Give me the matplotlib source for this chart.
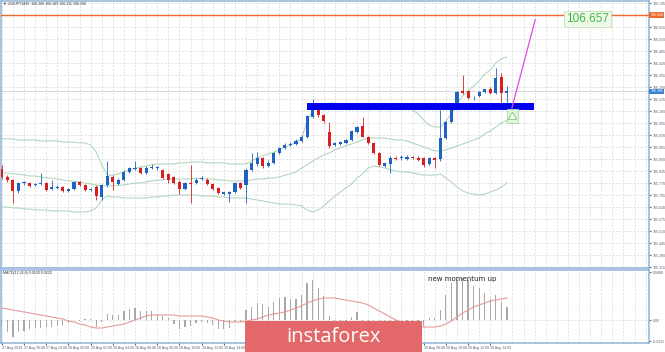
import matplotlib
matplotlib.use("Agg")
import matplotlib.pyplot as plt
from matplotlib.patches import Rectangle

# ---------------- data ----------------
open_ = [105.846,105.803,105.786,105.727,105.768,105.770,105.759,105.765,105.770,105.738,
         105.743,105.748,105.727,105.738,105.776,105.759,105.732,105.748,105.694,105.759,
         105.803,105.765,105.786,105.830,105.846,105.851,105.824,105.851,105.849,105.841,
         105.819,105.803,105.776,105.738,105.770,105.770,105.792,105.786,105.765,105.743,
         105.713,105.713,105.721,105.770,105.759,105.841,105.873,105.906,105.862,105.879,
         105.933,105.960,105.976,105.981,105.998,106.019,106.128,106.176,106.138,106.046,
         105.976,105.981,105.987,106.003,106.046,106.079,106.019,105.987,105.933,105.862,
         105.873,105.906,105.903,105.900,105.911,105.906,105.906,105.873,105.906,105.900,
         106.014,106.100,106.193,106.268,106.268,106.228,106.241,106.263,106.279,106.258,
         106.344,106.260]
high = [105.868,105.813,105.792,105.776,105.781,105.776,105.770,105.824,105.776,105.786,
        105.759,105.754,105.743,105.781,105.781,105.765,105.743,105.759,105.765,105.889,
        105.813,105.797,105.841,105.857,105.889,105.857,105.862,105.873,105.862,105.846,
        105.824,105.808,105.786,105.776,105.868,105.797,105.808,105.797,105.770,105.748,
        105.721,105.727,105.776,105.776,105.851,105.933,105.938,105.911,105.895,105.938,
        105.965,105.987,105.992,106.009,106.030,106.138,106.225,106.187,106.144,106.100,
        105.992,105.998,106.009,106.057,106.079,106.128,106.025,105.992,105.938,105.884,
        105.917,105.917,105.922,105.922,105.917,105.917,105.911,105.911,105.911,106.166,
        106.106,106.198,106.268,106.355,106.274,106.241,106.268,106.279,106.290,106.393,
        106.366,106.296]
low = [105.792,105.776,105.662,105.716,105.759,105.748,105.754,105.759,105.727,105.732,
       105.738,105.721,105.721,105.732,105.754,105.727,105.727,105.678,105.678,105.748,
       105.732,105.759,105.781,105.824,105.841,105.819,105.819,105.846,105.841,105.792,
       105.770,105.765,105.710,105.732,105.662,105.765,105.786,105.759,105.732,105.710,
       105.705,105.667,105.716,105.738,105.662,105.835,105.862,105.851,105.857,105.873,
       105.927,105.955,105.971,105.976,105.992,106.014,106.122,106.128,106.095,105.960,
       105.971,105.976,105.981,105.998,106.041,106.019,105.981,105.927,105.862,105.857,
       105.824,105.895,105.895,105.895,105.900,105.889,105.857,105.868,105.851,105.889,
       106.009,106.095,106.187,106.252,106.225,106.220,106.236,106.258,106.252,106.252,
       106.203,106.193]
close = [105.803,105.786,105.727,105.770,105.773,105.754,105.765,105.770,105.732,105.746,
         105.751,105.727,105.738,105.776,105.759,105.732,105.738,105.700,105.759,105.808,
         105.776,105.786,105.830,105.851,105.851,105.824,105.851,105.857,105.854,105.797,
         105.786,105.770,105.738,105.770,105.765,105.786,105.797,105.765,105.738,105.716,
         105.719,105.719,105.770,105.743,105.841,105.879,105.906,105.862,105.879,105.933,
         105.960,105.976,105.981,105.998,106.019,106.133,106.176,106.138,106.106,105.971,
         105.984,105.992,106.003,106.052,106.073,106.019,105.987,105.933,105.868,105.879,
         105.906,105.900,105.909,105.911,105.906,105.895,105.868,105.906,105.895,106.014,
         106.100,106.193,106.263,106.258,106.231,106.233,106.263,106.279,106.258,106.339,
         106.258,106.266]

bb_upper = [106.009,106.009,106.009,106.003,106.003,106.003,106.003,105.998,105.998,105.998,
            105.998,105.992,105.992,105.992,105.987,105.987,105.976,105.938,105.868,105.813,
            105.813,105.819,105.830,105.841,105.851,105.857,105.862,105.868,105.873,105.873,
            105.873,105.873,105.879,105.879,105.884,105.884,105.884,105.879,105.879,105.879,
            105.879,105.873,105.873,105.873,105.873,105.889,105.906,105.917,105.927,105.938,
            105.949,105.965,105.976,105.992,106.009,106.106,106.166,106.187,106.198,106.203,
            106.203,106.198,106.193,106.193,106.187,106.182,106.176,106.176,106.176,106.182,
            106.187,106.187,106.182,106.176,106.166,106.144,106.111,106.084,106.073,106.073,
            106.106,106.144,106.198,106.241,106.268,106.296,106.323,106.360,106.382,106.420,
            106.442,106.453]
bb_mid = [105.824,105.824,105.819,105.819,105.813,105.808,105.808,105.803,105.797,105.797,
          105.792,105.786,105.781,105.781,105.776,105.770,105.765,105.759,105.754,105.754,
          105.754,105.759,105.759,105.765,105.770,105.770,105.776,105.781,105.786,105.786,
          105.792,105.792,105.792,105.792,105.792,105.797,105.792,105.792,105.792,105.786,
          105.786,105.781,105.781,105.781,105.781,105.786,105.792,105.792,105.797,105.797,
          105.803,105.813,105.819,105.830,105.851,105.868,105.889,105.906,105.922,105.933,
          105.949,105.960,105.971,105.981,105.992,106.003,106.014,106.014,106.014,106.014,
          106.009,106.003,106.003,105.998,105.987,105.976,105.965,105.955,105.944,105.944,
          105.949,105.960,105.971,105.981,105.992,106.003,106.014,106.036,106.052,106.073,
          106.095,106.111]
bb_lower = [105.640,105.640,105.635,105.635,105.629,105.629,105.624,105.624,105.624,105.619,
            105.619,105.619,105.619,105.613,105.613,105.613,105.619,105.635,105.678,105.700,
            105.694,105.694,105.689,105.689,105.689,105.689,105.689,105.694,105.694,105.700,
            105.700,105.705,105.705,105.705,105.705,105.705,105.700,105.700,105.700,105.694,
            105.694,105.689,105.689,105.689,105.689,105.683,105.678,105.673,105.667,105.662,
            105.656,105.656,105.656,105.651,105.646,105.624,105.613,105.624,105.646,105.673,
            105.700,105.721,105.743,105.765,105.797,105.819,105.851,105.862,105.857,105.851,
            105.841,105.835,105.830,105.830,105.824,105.819,105.813,105.813,105.813,105.819,
            105.797,105.776,105.748,105.727,105.716,105.710,105.705,105.710,105.721,105.732,
            105.748,105.770]

macd_hist = [-0.007,-0.012,-0.017,-0.012,-0.011,-0.009,-0.008,-0.008,-0.007,-0.007,
             -0.006,-0.005,-0.003,0.0005,-0.001,0.001,0.001,-0.007,-0.002,0.006,
             0.005,0.005,0.009,0.011,0.012,0.009,0.009,0.009,0.006,0.004,
             0.002,-0.004,-0.009,-0.007,-0.006,-0.003,-0.002,-0.003,-0.005,-0.009,
             -0.009,-0.008,-0.001,-0.002,0.010,0.013,0.017,0.016,0.013,0.018,
             0.022,0.023,0.021,0.021,0.025,0.037,0.040,0.032,0.024,0.004,
             -0.002,-0.004,-0.003,0.003,0.008,-0.002,-0.006,-0.012,-0.018,-0.020,
             -0.018,-0.016,-0.014,-0.012,-0.010,-0.008,-0.006,0.002,0.002,0.010,
             0.025,0.037,0.040,0.042,0.040,0.034,0.032,0.027,0.021,0.025,
             0.018,0.013]
macd_signal = [0.012,0.011,0.010,0.009,0.008,0.007,0.006,0.005,0.004,0.003,
               0.002,0.001,-0.001,-0.002,-0.004,-0.005,-0.007,-0.008,-0.008,-0.007,
               -0.006,-0.005,-0.004,-0.002,0.000,0.002,0.004,0.005,0.005,0.005,
               0.005,0.005,0.004,0.004,0.004,0.004,0.004,0.003,0.002,0.000,
               -0.001,-0.002,-0.002,-0.002,-0.001,0.000,0.001,0.003,0.005,0.006,
               0.007,0.008,0.010,0.012,0.014,0.017,0.019,0.021,0.022,0.022,
               0.022,0.021,0.020,0.019,0.018,0.017,0.015,0.012,0.009,0.006,
               0.003,0.000,-0.002,-0.004,-0.005,-0.006,-0.007,-0.007,-0.007,-0.006,
               -0.004,-0.001,0.003,0.007,0.010,0.013,0.015,0.017,0.019,0.020,
               0.021,0.022]

price_labels = ["106.745","106.680","106.615","106.550","106.485","106.420","106.355",
                "106.290","106.225","106.160","106.095","106.030","105.965","105.900",
                "105.835","105.770","105.705","105.640","105.575","105.510","105.445",
                "105.380","105.315"]
date_labels = ["27 Aug 2019","27 Aug 20:00","27 Aug 22:00","28 Aug 00:00","28 Aug 02:00",
               "28 Aug 04:00","28 Aug 06:00","28 Aug 08:00","28 Aug 10:00","28 Aug 12:00",
               "28 Aug 14:00","28 Aug 16:00","28 Aug 18:00","28 Aug 20:00","28 Aug 22:00",
               "29 Aug 00:00","29 Aug 02:00","29 Aug 04:00","29 Aug 06:00","29 Aug 08:00",
               "29 Aug 10:00","29 Aug 12:00","29 Aug 14:00"]
macd_labels = ["0.0480", "0.00", "-0.0211"]
macd_label_values = [0.048, 0.0, -0.0211]

resistance_line = 106.680
resistance_label = "106.680"
current_price = 106.266
current_label = "106.266"
target_price = 106.657
target_label = "106.657"
zone = {"x0": 54.9, "x1": 95.9, "low": 106.166, "high": 106.203}
projection_x = [91.9, 96.1]
projection_y = [106.176, 106.655]
title_text = "\u25bc USDJPY,M30  106.266 106.289 106.211 106.266"
macd_title = "MACD(12,26,9) 0.0130 0.0220"
note_text = "new momentum up"
logo_text = "instaforex"

# ---------------- figure ----------------
W, H = 665, 352
fig = plt.figure(figsize=(W / 100, H / 100), dpi=100)
fig.patch.set_facecolor("white")

FONT = ["Liberation Sans", "DejaVu Sans"]
SMALL = 2.6
frame_col = "#8fb2d8"
grid_col = "#d6d6d6"
bull = "#1f62c4"
bear = "#d61f1f"

n = len(close)
xs = list(range(n))
xlim = (-0.15, 116.6)

ax = fig.add_axes([1 / W, 1 - 267.5 / H, 648 / W, 266.5 / H])
sub = fig.add_axes([1 / W, 1 - 343 / H, 648 / W, 73.5 / H])

price_vals = [float(s) for s in price_labels]
for a in (ax, sub):
    a.set_xlim(*xlim)
    for sp in a.spines.values():
        sp.set_color(frame_col)
        sp.set_linewidth(1.1)
    for gx in range(0, 118, 2):
        a.axvline(gx, color=grid_col, lw=0.5, ls=(0, (3, 2)), zorder=0)

ax.set_ylim(105.3123, 106.7559)
for pv in price_vals:
    ax.axhline(pv, color=grid_col, lw=0.5, ls=(0, (3, 2)), zorder=0)

# Bollinger bands
for band in (bb_upper, bb_mid, bb_lower):
    ax.plot(xs, band, color="#a9d3b4", lw=0.7, zorder=1)

# candles
for i in xs:
    o, h, l, c = open_[i], high[i], low[i], close[i]
    col = bull if c >= o else bear
    ax.vlines(i, l, h, color=col, lw=0.6, zorder=2)
    bot = min(o, c)
    hgt = max(abs(c - o), 0.0025)
    ax.bar(i, hgt, bottom=bot, width=0.56, color=col, linewidth=0, zorder=3)

# lines
ax.axhline(resistance_line, color="#ec6a2c", lw=1.0, zorder=4)
ax.axhline(current_price, color="#c8c8c8", lw=0.5, zorder=1)

ax.add_patch(Rectangle((zone["x0"], zone["low"]), zone["x1"] - zone["x0"],
                       zone["high"] - zone["low"], facecolor="#0000ee",
                       edgecolor="none", zorder=5))
ax.plot(projection_x, projection_y, color="#e44be4", lw=0.9, zorder=6)

# green arrow box
ax.add_patch(Rectangle((91.0, 106.095), 2.0, 0.078, facecolor="#e3f4dc",
                       edgecolor="#a6d99a", lw=0.6, zorder=6))
ax.annotate("", xy=(92.0, 106.168), xytext=(92.0, 106.105),
            arrowprops=dict(arrowstyle="simple,head_width=0.6,head_length=0.5,tail_width=0.25",
                            fc="white", ec="#5cbf4f", lw=0.5), zorder=7)

# target label
ax.text(105.5, target_price, target_label, fontsize=8.5, family=FONT, color="#45b444",
        ha="center", va="center", zorder=8,
        bbox=dict(boxstyle="square,pad=0.15", fc="#eef9ea", ec="#bfe5b4", lw=0.6))

# title
ax.text(0.003, 0.997, title_text, transform=ax.transAxes, fontsize=SMALL,
        family=FONT, color="#333333", va="top", ha="left")

# price axis labels (the 106.680 level is shown by the orange price box)
ax.set_yticks(price_vals)
ax.set_yticklabels(["" if s == resistance_label else s for s in price_labels])
ax.yaxis.tick_right()
ax.tick_params(axis="y", labelsize=SMALL, length=1.5, pad=1, colors="#556677",
               labelfontfamily="Liberation Sans")
ax.set_xticks([])

# price boxes on the right axis
ytr = ax.get_yaxis_transform()
ax.text(1.002, resistance_line, resistance_label, transform=ytr, fontsize=SMALL, family=FONT,
        color="white", va="center", ha="left", clip_on=False, zorder=9,
        bbox=dict(boxstyle="square,pad=0.25", fc="#ec6a2c", ec="none"))
ax.text(1.002, current_price, current_label, transform=ytr, fontsize=SMALL, family=FONT,
        color="white", va="center", ha="left", clip_on=False, zorder=9,
        bbox=dict(boxstyle="square,pad=0.25", fc="#3b7dd0", ec="none"))

# ---------------- MACD ----------------
sub.set_ylim(-0.023, 0.0505)
sub.axhline(0, color=grid_col, lw=0.5, ls=(0, (3, 2)), zorder=0)
sub.bar(xs, macd_hist, width=0.22, color="#a8a8a8", linewidth=0, zorder=2)
sub.plot(xs, macd_signal, color="#e59a9a", lw=0.8, zorder=3)
sub.text(0.003, 0.985, macd_title, transform=sub.transAxes, fontsize=SMALL,
         family=FONT, color="#333333", va="top", ha="left")
sub.text(83.0, 0.041, note_text, fontsize=5, family=["DejaVu Sans"],
         color="#222222", ha="center", va="center", zorder=5)

sub.set_yticks(macd_label_values)
sub.set_yticklabels(macd_labels)
sub.yaxis.tick_right()
sub.tick_params(axis="y", labelsize=SMALL, length=1.5, pad=1, colors="#556677",
                labelfontfamily="Liberation Sans")
sub.set_xticks(list(range(0, 4 * len(date_labels), 4)))
sub.set_xticklabels(date_labels, ha="left")
sub.tick_params(axis="x", labelsize=SMALL, length=1.5, pad=1, colors="#556677",
                labelfontfamily="Liberation Sans")

# ---------------- logo ----------------
fig.patches.append(Rectangle((245 / W, 0), 177 / W, 31 / H, transform=fig.transFigure,
                             facecolor="#e36869", edgecolor="none", zorder=20))
fig.text(333.5 / W, 10 / H, logo_text, fontsize=14.5, family=["Open Sans", "DejaVu Sans"],
         fontweight="normal", color="white", ha="center", va="baseline", zorder=21)

fig.savefig("out.png", dpi=100)
